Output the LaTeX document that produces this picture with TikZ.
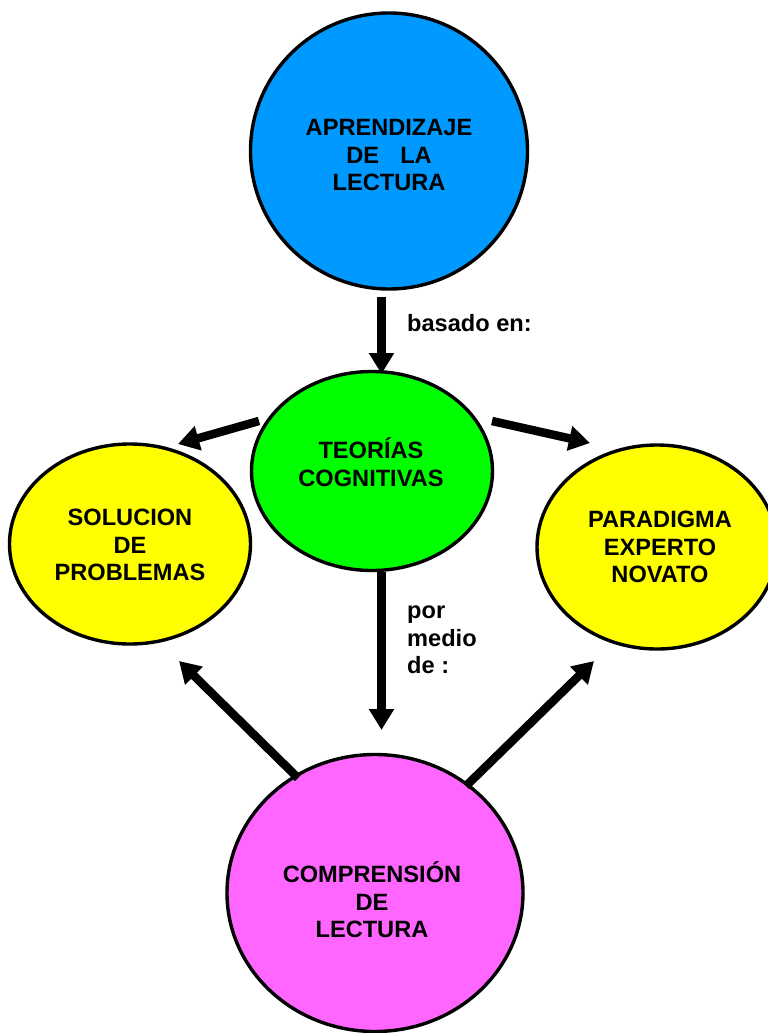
\documentclass[tikz,border=0pt]{standalone}
\usepackage{fontspec}
\setmainfont{Liberation Sans}
\usetikzlibrary{shapes.geometric,arrows.meta}
\begin{document}
\begin{tikzpicture}[x=1pt,y=-1pt,
  blob/.style={ellipse,draw=black,line width=3.4pt,inner sep=0pt},
  lbl/.style={font=\fontsize{23.6}{27.6}\selectfont\bfseries,align=center,inner sep=0pt},
  side/.style={font=\fontsize{23.6}{27.6}\selectfont\bfseries,align=left,anchor=west,inner sep=0pt},
  arr/.style={line width=8.5pt,-{Triangle[width=24pt,length=21pt]}}]
\useasboundingbox (0,0) rectangle (768,1033);
\clip (0,0) rectangle (768,1033);
\definecolor{cblue}{RGB}{0,153,255}
\definecolor{cgreen}{RGB}{0,255,0}
\definecolor{cyellow}{RGB}{255,255,0}
\definecolor{cpink}{RGB}{255,102,255}
\node[blob,fill=cblue,minimum width=277pt,minimum height=276pt] (apr) at (389,151) {};
\node[lbl] (aprt) at (389,155) {APRENDIZAJE\\DE\hspace{0.9em}LA\\LECTURA};
\node[blob,fill=cgreen,minimum width=241pt,minimum height=199pt] (teo) at (372,471) {};
\node[lbl] (teot) at (371,462) {TEORÍAS\\COGNITIVAS};
\node[blob,fill=cyellow,minimum width=241pt,minimum height=200pt] (sol) at (130,544) {};
\node[lbl] (solt) at (130,545) {SOLUCION\\DE\\PROBLEMAS};
\node[blob,fill=cyellow,minimum width=240pt,minimum height=204pt] (par) at (657,547) {};
\node[lbl] (part) at (660,547) {PARADIGMA\\EXPERTO\\NOVATO};
\node[blob,fill=cpink,minimum width=296pt,minimum height=277pt] (com) at (375,893) {};
\node[lbl] (comt) at (372,900) {COMPRENSIÓN\\DE\\LECTURA};
\node[side] (bas) at (407,323) {basado en:};
\node[side] (por) at (407,640) {por\\medio\\de :};
\coordinate (a1s) at (381.5,297);
\coordinate (a1e) at (381.5,374);
\coordinate (a2s) at (259,421);
\coordinate (a2e) at (178,444);
\coordinate (a3s) at (492,421);
\coordinate (a3e) at (590,443);
\coordinate (a4s) at (381.5,572);
\coordinate (a4e) at (381.5,730);
\coordinate (a5s) at (298,778);
\coordinate (a5e) at (179,661);
\coordinate (a6s) at (466,786);
\coordinate (a6e) at (594,661);
\draw[arr] (a1s) -- (a1e);
\draw[arr] (a2s) -- (a2e);
\draw[arr] (a3s) -- (a3e);
\draw[arr] (a4s) -- (a4e);
\draw[arr] (a5s) -- (a5e);
\draw[arr] (a6s) -- (a6e);
\end{tikzpicture}
\end{document}
